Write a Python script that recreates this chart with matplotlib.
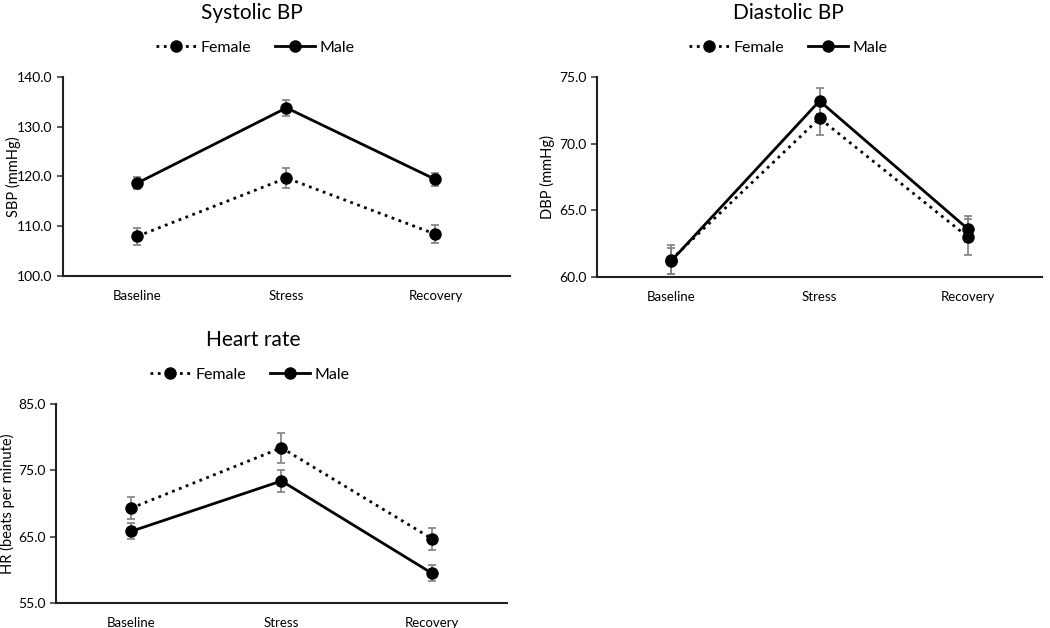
import matplotlib.pyplot as plt
from matplotlib.ticker import FormatStrFormatter

plt.rcParams['font.family'] = ['Lato', 'DejaVu Sans']

# -----------------------------
# Data
# -----------------------------
phases = ["Baseline", "Stress", "Recovery"]

sbp_female = [108.0, 119.7, 108.4]
sbp_female_err = [1.7, 2.0, 1.8]
sbp_male = [118.7, 133.8, 119.4]
sbp_male_err = [1.2, 1.6, 1.4]

dbp_female = [61.3, 71.9, 63.0]
dbp_female_err = [1.1, 1.25, 1.35]
dbp_male = [61.2, 73.2, 63.6]
dbp_male_err = [1.0, 0.95, 0.95]

hr_female = [69.3, 78.4, 64.7]
hr_female_err = [1.7, 2.3, 1.65]
hr_male = [65.8, 73.4, 59.5]
hr_male_err = [1.2, 1.7, 1.25]

panels = [
    # title, ylabel, female, female_err, male, male_err, yticks, axes rect, title x, ylabel x
    ("Systolic BP", "SBP (mmHg)", sbp_female, sbp_female_err, sbp_male, sbp_male_err,
     [100, 110, 120, 130, 140], [0.060, 0.5605, 0.4257, 0.3169], 0.423, -0.095),
    ("Diastolic BP", "DBP (mmHg)", dbp_female, dbp_female_err, dbp_male, dbp_male_err,
     [60, 65, 70, 75], [0.5686, 0.5590, 0.4238, 0.3185], 0.431, -0.095),
    ("Heart rate", "HR (beats per minute)", hr_female, hr_female_err, hr_male, hr_male_err,
     [55, 65, 75, 85], [0.0533, 0.0398, 0.4295, 0.3169], 0.437, -0.09),
]

fig = plt.figure(figsize=(10.5, 6.28), dpi=100)

x = list(range(len(phases)))
for title, ylabel, fem, fem_err, mal, mal_err, yticks, rect, tx, lx in panels:
    ax = fig.add_axes(rect)
    ax.errorbar(x, fem, yerr=fem_err, color="black", linestyle=":", linewidth=2,
                marker="o", markersize=8, ecolor="#808080", elinewidth=1.2,
                capsize=3, capthick=1.2, label="Female")
    ax.errorbar(x, mal, yerr=mal_err, color="black", linestyle="-", linewidth=2,
                marker="o", markersize=8, ecolor="#808080", elinewidth=1.2,
                capsize=3, capthick=1.2, label="Male")
    ax.set_xlim(-0.5, len(phases) - 0.5)
    ax.set_ylim(yticks[0], yticks[-1])
    ax.set_yticks(yticks)
    ax.yaxis.set_major_formatter(FormatStrFormatter("%.1f"))
    ax.set_xticks(x)
    ax.set_xticklabels(phases, fontsize=9.5)
    ax.tick_params(axis="x", length=0, pad=10)
    ax.tick_params(axis="y", labelsize=10, length=4, width=1.2, color="#404040")
    ax.set_ylabel(ylabel, fontsize=10.5)
    ax.yaxis.set_label_coords(lx, 0.5)
    for side in ["top", "right"]:
        ax.spines[side].set_visible(False)
    for side in ["left", "bottom"]:
        ax.spines[side].set_linewidth(1.5)
        ax.spines[side].set_color("#202020")

    # title and legend above the plot area
    ax.set_title(title, fontsize=15, pad=42, x=tx)
    handles, labels = ax.get_legend_handles_labels()
    handles = [h[0] for h in handles]
    ax.legend(handles, labels, loc="lower center", bbox_to_anchor=(0.43, 1.04),
              ncol=2, frameon=False, fontsize=11.5, handlelength=2.5,
              columnspacing=1.5, handletextpad=0.3)

fig.savefig("out.png", dpi=100)
